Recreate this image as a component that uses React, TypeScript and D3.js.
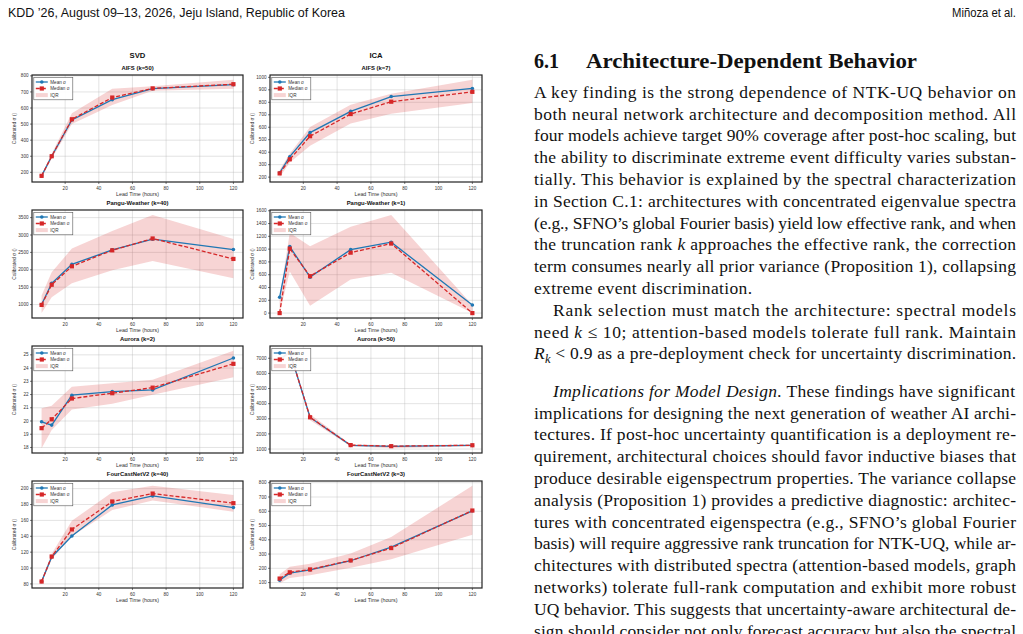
import React from 'react';
import * as d3 from 'd3';

// ---------- DATA ----------
const leadTimes = [6, 12, 24, 48, 72, 120];
const xTicks = [20, 40, 60, 80, 100, 120];
const columnTitles = ['SVD', 'ICA'];

const aifsSvdMean = [178, 300, 526, 652, 720, 745];
const aifsSvdMedian = [178, 300, 530, 665, 722, 748];
const aifsSvdLower = [170, 285, 500, 618, 708, 720];
const aifsSvdUpper = [186, 315, 568, 720, 735, 775];
const aifsSvdTicks = [200, 300, 400, 500, 600, 700, 800];

const aifsIcaMean = [235, 364, 557, 727, 846, 911];
const aifsIcaMedian = [230, 343, 528, 706, 805, 884];
const aifsIcaLower = [200, 318, 452, 630, 708, 795];
const aifsIcaUpper = [257, 388, 602, 780, 868, 980];
const aifsIcaTicks = [200, 300, 400, 500, 600, 700, 800, 900, 1000];

const panguSvdMean = [1000, 1608, 2155, 2572, 2880, 2582];
const panguSvdMedian = [990, 1570, 2100, 2560, 2900, 2312];
const panguSvdLower = [755, 1210, 1615, 1990, 2252, 1760];
const panguSvdUpper = [1258, 1930, 2610, 3112, 3578, 2885];
const panguSvdTicks = [1000, 1500, 2000, 2500, 3000, 3500];

const panguIcaMean = [248, 1040, 562, 992, 1108, 126];
const panguIcaMedian = [0, 1008, 577, 945, 1087, 0];
const panguIcaLower = [0, 650, 115, 525, 632, 0];
const panguIcaUpper = [250, 1255, 1045, 1350, 1535, 125];
const panguIcaTicks = [0, 200, 400, 600, 800, 1000, 1200, 1400, 1600];

const auroraSvdMean = [19.94, 19.69, 21.95, 22.22, 22.35, 24.76];
const auroraSvdMedian = [19.46, 20.13, 21.7, 22.1, 22.52, 24.32];
const auroraSvdLower = [17.95, 19.32, 20.87, 21.3, 21.98, 23.3];
const auroraSvdUpper = [20.97, 21.15, 22.58, 22.85, 23.11, 25.3];
const auroraSvdTicks = [18, 19, 20, 21, 22, 23, 24, 25];

const auroraIcaMean = [6900, 7420, 3090, 1245, 1180, 1240];
const auroraIcaMedian = [6880, 7440, 3100, 1260, 1190, 1250];
const auroraIcaLower = [6700, 7300, 2900, 1180, 1060, 1190];
const auroraIcaUpper = [7050, 7490, 3300, 1320, 1250, 1300];
const auroraIcaTicks = [1000, 2000, 3000, 4000, 5000, 6000, 7000];

const fcnSvdMean = [83, 114, 140.3, 179.5, 190.8, 176.2];
const fcnSvdMedian = [83, 114.5, 148.6, 183.8, 193.8, 181.7];
const fcnSvdLower = [81, 111, 140, 173, 185, 171];
const fcnSvdUpper = [85, 118, 159.5, 195.5, 203.5, 192];
const fcnSvdTicks = [80, 100, 120, 140, 160, 180, 200];

const fcnIcaMean = [117, 166, 189, 253, 348, 603];
const fcnIcaMedian = [128, 172, 192, 255, 342, 605];
const fcnIcaLower = [96, 132, 152, 204, 263, 435];
const fcnIcaUpper = [158, 211, 232, 303, 420, 778];
const fcnIcaTicks = [100, 200, 300, 400, 500, 600, 700, 800];

const panelTitles = [
  'AIFS (k=50)', 'AIFS (k=7)',
  'Pangu-Weather (k=40)', 'Pangu-Weather (k=1)',
  'Aurora (k=2)', 'Aurora (k=50)',
  'FourCastNetV2 (k=40)', 'FourCastNetV2 (k=3)',
];

const legendLabels = ['Mean σ', 'Median σ', 'IQR'];
const xLabel = 'Lead Time (hours)';
const yLabel = 'Calibrated σ ()';

const headerLeft = 'KDD ’26, August 09–13, 2026, Jeju Island, Republic of Korea';
const headerRight = 'Miñoza et al.';
const sectionNumber = '6.1';
const sectionTitle = 'Architecture-Dependent Behavior';

type Seg = { t: string; i?: boolean; sub?: boolean };
const bodyLines: { segs: Seg[]; indent?: boolean; width: number; gapBefore?: boolean }[] = [
  { segs: [{ t: 'A key finding is the strong dependence of NTK-UQ behavior on' }], width: 482 },
  { segs: [{ t: 'both neural network architecture and decomposition method. All' }], width: 482 },
  { segs: [{ t: 'four models achieve target 90% coverage after post-hoc scaling, but' }], width: 482 },
  { segs: [{ t: 'the ability to discriminate extreme event difficulty varies substan-' }], width: 482 },
  { segs: [{ t: 'tially. This behavior is explained by the spectral characterization' }], width: 482 },
  { segs: [{ t: 'in Section C.1: architectures with concentrated eigenvalue spectra' }], width: 482 },
  { segs: [{ t: '(e.g., SFNO’s global Fourier basis) yield low effective rank, and when' }], width: 482 },
  { segs: [{ t: 'the truncation rank ' }, { t: 'k', i: true }, { t: ' approaches the effective rank, the correction' }], width: 482 },
  { segs: [{ t: 'term consumes nearly all prior variance (Proposition 1), collapsing' }], width: 482 },
  { segs: [{ t: 'extreme event discrimination.' }], width: 218 },
  { segs: [{ t: 'Rank selection must match the architecture: spectral models' }], indent: true, width: 463 },
  { segs: [{ t: 'need ' }, { t: 'k', i: true }, { t: ' ≤ 10; attention-based models tolerate full rank. Maintain' }], width: 482 },
  { segs: [{ t: 'R', i: true }, { t: 'k', i: true, sub: true }, { t: ' < 0.9 as a pre-deployment check for uncertainty discrimination.' }], width: 482 },
  { segs: [{ t: 'Implications for Model Design.', i: true }, { t: ' These findings have significant' }], indent: true, width: 462, gapBefore: true },
  { segs: [{ t: 'implications for designing the next generation of weather AI archi-' }], width: 482 },
  { segs: [{ t: 'tectures. If post-hoc uncertainty quantification is a deployment re-' }], width: 482 },
  { segs: [{ t: 'quirement, architectural choices should favor inductive biases that' }], width: 482 },
  { segs: [{ t: 'produce desirable eigenspectrum properties. The variance collapse' }], width: 482 },
  { segs: [{ t: 'analysis (Proposition 1) provides a predictive diagnostic: architec-' }], width: 482 },
  { segs: [{ t: 'tures with concentrated eigenspectra (e.g., SFNO’s global Fourier' }], width: 482 },
  { segs: [{ t: 'basis) will require aggressive rank truncation for NTK-UQ, while ar-' }], width: 482 },
  { segs: [{ t: 'chitectures with distributed spectra (attention-based models, graph' }], width: 482 },
  { segs: [{ t: 'networks) tolerate full-rank computation and exhibit more robust' }], width: 482 },
  { segs: [{ t: 'UQ behavior. This suggests that uncertainty-aware architectural de-' }], width: 482 },
  { segs: [{ t: 'sign should consider not only forecast accuracy but also the spectral' }], width: 482 },
];

type PanelData = {
  title: string; mean: number[]; median: number[]; lower: number[]; upper: number[];
  ticks: number[];
};
const panels: PanelData[] = [
  { title: panelTitles[0], mean: aifsSvdMean, median: aifsSvdMedian, lower: aifsSvdLower, upper: aifsSvdUpper, ticks: aifsSvdTicks },
  { title: panelTitles[1], mean: aifsIcaMean, median: aifsIcaMedian, lower: aifsIcaLower, upper: aifsIcaUpper, ticks: aifsIcaTicks },
  { title: panelTitles[2], mean: panguSvdMean, median: panguSvdMedian, lower: panguSvdLower, upper: panguSvdUpper, ticks: panguSvdTicks },
  { title: panelTitles[3], mean: panguIcaMean, median: panguIcaMedian, lower: panguIcaLower, upper: panguIcaUpper, ticks: panguIcaTicks },
  { title: panelTitles[4], mean: auroraSvdMean, median: auroraSvdMedian, lower: auroraSvdLower, upper: auroraSvdUpper, ticks: auroraSvdTicks },
  { title: panelTitles[5], mean: auroraIcaMean, median: auroraIcaMedian, lower: auroraIcaLower, upper: auroraIcaUpper, ticks: auroraIcaTicks },
  { title: panelTitles[6], mean: fcnSvdMean, median: fcnSvdMedian, lower: fcnSvdLower, upper: fcnSvdUpper, ticks: fcnSvdTicks },
  { title: panelTitles[7], mean: fcnIcaMean, median: fcnIcaMedian, lower: fcnIcaLower, upper: fcnIcaUpper, ticks: fcnIcaTicks },
];

// ---------- LAYOUT ----------
const W = 1023, H = 634;
const colX = [[32, 243], [270, 482]];
const rowY = [[75, 182], [210, 318], [346, 453], [481, 588]];
const BLUE = '#1f77b4';
const RED = '#d62728';
const SANS = "'Liberation Sans', Arial, sans-serif";
const SERIF = "'Liberation Serif', 'Times New Roman', serif";

function Panel({ p, idx }: { p: PanelData; idx: number }) {
  const col = idx % 2, row = Math.floor(idx / 2);
  const [x0, x1] = colX[col];
  const [y0, y1] = rowY[row];
  const x = d3.scaleLinear().domain([0.3, 125.7]).range([x0, x1]);
  const all = [...p.lower, ...p.upper, ...p.mean, ...p.median];
  const mn = d3.min(all)!, mx = d3.max(all)!;
  const m = (mx - mn) * 0.05;
  const y = d3.scaleLinear().domain([mn - m, mx + m]).range([y1, y0]);
  const area = d3.area<number>()
    .x((_, i) => x(leadTimes[i]))
    .y0((_, i) => y(p.lower[i]))
    .y1((_, i) => y(p.upper[i]))(p.lower) || '';
  const line = (arr: number[]) => d3.line<number>().x((_, i) => x(leadTimes[i])).y(d => y(d))(arr) || '';
  const clipId = `clip${idx}`;
  const sq = 4.2;
  const lx = x0 + 1.8, ly = y0 + 2.3;
  return (
    <g>
      <defs>
        <clipPath id={clipId}><rect x={x0} y={y0} width={x1 - x0} height={y1 - y0} /></clipPath>
      </defs>
      <rect x={x0} y={y0} width={x1 - x0} height={y1 - y0} fill="#fff" />
      {xTicks.map(t => (
        <line key={'gx' + t} x1={x(t)} x2={x(t)} y1={y0} y2={y1} stroke="#b0b0b0" strokeOpacity={0.45} strokeWidth={0.8} />
      ))}
      {p.ticks.map(t => (
        <line key={'gy' + t} x1={x0} x2={x1} y1={y(t)} y2={y(t)} stroke="#b0b0b0" strokeOpacity={0.45} strokeWidth={0.8} />
      ))}
      <g clipPath={`url(#${clipId})`}>
        <path d={area} fill={RED} fillOpacity={0.2} />
        <path d={line(p.mean)} fill="none" stroke={BLUE} strokeWidth={1.3} />
        {p.mean.map((v, i) => (
          <circle key={'m' + i} cx={x(leadTimes[i])} cy={y(v)} r={1.8} fill={BLUE} />
        ))}
        <path d={line(p.median)} fill="none" stroke={RED} strokeWidth={1.3} strokeDasharray="4,2" />
        {p.median.map((v, i) => (
          <rect key={'d' + i} x={x(leadTimes[i]) - sq / 2} y={y(v) - sq / 2} width={sq} height={sq} fill={RED} />
        ))}
      </g>
      <rect x={x0} y={y0} width={x1 - x0} height={y1 - y0} fill="none" stroke="#222" strokeWidth={1.2} />
      {xTicks.map(t => (
        <g key={'tx' + t}>
          <line x1={x(t)} x2={x(t)} y1={y1} y2={y1 + 2} stroke="#222" strokeWidth={0.6} />
          <text x={x(t)} y={y1 + 7.6} fontSize={4.6} textAnchor="middle" fill="#333" fontFamily={SANS}>{t}</text>
        </g>
      ))}
      {p.ticks.map(t => (
        <g key={'ty' + t}>
          <line x1={x0 - 2} x2={x0} y1={y(t)} y2={y(t)} stroke="#222" strokeWidth={0.6} />
          <text x={x0 - 3.5} y={y(t) + 1.6} fontSize={4.6} textAnchor="end" fill="#333" fontFamily={SANS}>{t}</text>
        </g>
      ))}
      <text x={(x0 + x1) / 2} y={y1 + 14.2} fontSize={5.3} textAnchor="middle" fill="#333" fontFamily={SANS}>{xLabel}</text>
      <text transform={`translate(${x0 - 16},${(y0 + y1) / 2}) rotate(-90)`} fontSize={4.9} textAnchor="middle" fill="#333" fontFamily={SANS}>{yLabel}</text>
      <text x={(x0 + x1) / 2} y={y0 - 4.8} fontSize={5.9} fontWeight="bold" textAnchor="middle" fill="#111" fontFamily={SANS}>{p.title}</text>
      {row === 0 && (
        <text x={(x0 + x1) / 2} y={y0 - 17} fontSize={7.7} fontWeight="bold" textAnchor="middle" fill="#111" fontFamily={SANS}>{columnTitles[col]}</text>
      )}
      <g>
        <rect x={lx} y={ly} width={39} height={22.5} fill="#fff" fillOpacity={0.92} stroke="#555" strokeWidth={0.6} />
        <line x1={lx + 2} x2={lx + 14} y1={ly + 4.7} y2={ly + 4.7} stroke={BLUE} strokeWidth={1.3} />
        <circle cx={lx + 8} cy={ly + 4.7} r={1.8} fill={BLUE} />
        <text x={lx + 16.5} y={ly + 6.3} fontSize={4.6} fill="#333" fontFamily={SANS}>{legendLabels[0]}</text>
        <line x1={lx + 2} x2={lx + 14} y1={ly + 11.2} y2={ly + 11.2} stroke={RED} strokeWidth={1.3} strokeDasharray="4,2" />
        <rect x={lx + 8 - sq / 2} y={ly + 11.2 - sq / 2} width={sq} height={sq} fill={RED} />
        <text x={lx + 16.5} y={ly + 12.8} fontSize={4.6} fill="#333" fontFamily={SANS}>{legendLabels[1]}</text>
        <rect x={lx + 2} y={ly + 15.8} width={12} height={4} fill={RED} fillOpacity={0.2} />
        <text x={lx + 16.5} y={ly + 19.4} fontSize={4.6} fill="#333" fontFamily={SANS}>{legendLabels[2]}</text>
      </g>
    </g>
  );
}

export default function App() {
  const lineH = 21.8;
  let yCursor = 97.7;
  const placed = bodyLines.map((ln, i) => {
    if (i > 0) yCursor += lineH + (ln.gapBefore ? 15.6 : 0);
    return { ...ln, y: yCursor };
  });
  return (
    <svg width={W} height={H} style={{ position: 'absolute', left: 0, top: 0, background: '#fff' }}>
      <rect width={W} height={H} fill="#fff" />
      <text x={8} y={16.5} fontSize={12.5} fontFamily="'Liberation Sans Narrow', 'Liberation Sans', sans-serif" textLength={337} lengthAdjust="spacingAndGlyphs" fill="#111">{headerLeft}</text>
      <text x={952} y={16.5} fontSize={12.5} fontFamily="'Liberation Sans Narrow', 'Liberation Sans', sans-serif" textLength={64} lengthAdjust="spacingAndGlyphs" fill="#111">{headerRight}</text>
      {panels.map((p, i) => <Panel key={i} p={p} idx={i} />)}
      <text x={534} y={68.3} fontSize={20} fontWeight="bold" fontFamily={SERIF} fill="#111">{sectionNumber}</text>
      <text x={586} y={68.3} fontSize={20} fontWeight="bold" fontFamily={SERIF} fill="#111" textLength={331} lengthAdjust="spacingAndGlyphs">{sectionTitle}</text>
      {placed.map((ln, i) => (
        <text key={i} x={ln.indent ? 553 : 534} y={ln.y} fontSize={17.5} fontFamily={SERIF} fill="#111" textLength={ln.width} lengthAdjust="spacing">
          {ln.segs.map((s, j) => (
            <tspan key={j} fontStyle={s.i ? 'italic' : undefined} fontSize={s.sub ? 12.5 : undefined} dy={s.sub ? 3.5 : (j > 0 && ln.segs[j - 1].sub ? -3.5 : undefined)}>{s.t}</tspan>
          ))}
        </text>
      ))}
    </svg>
  );
}
